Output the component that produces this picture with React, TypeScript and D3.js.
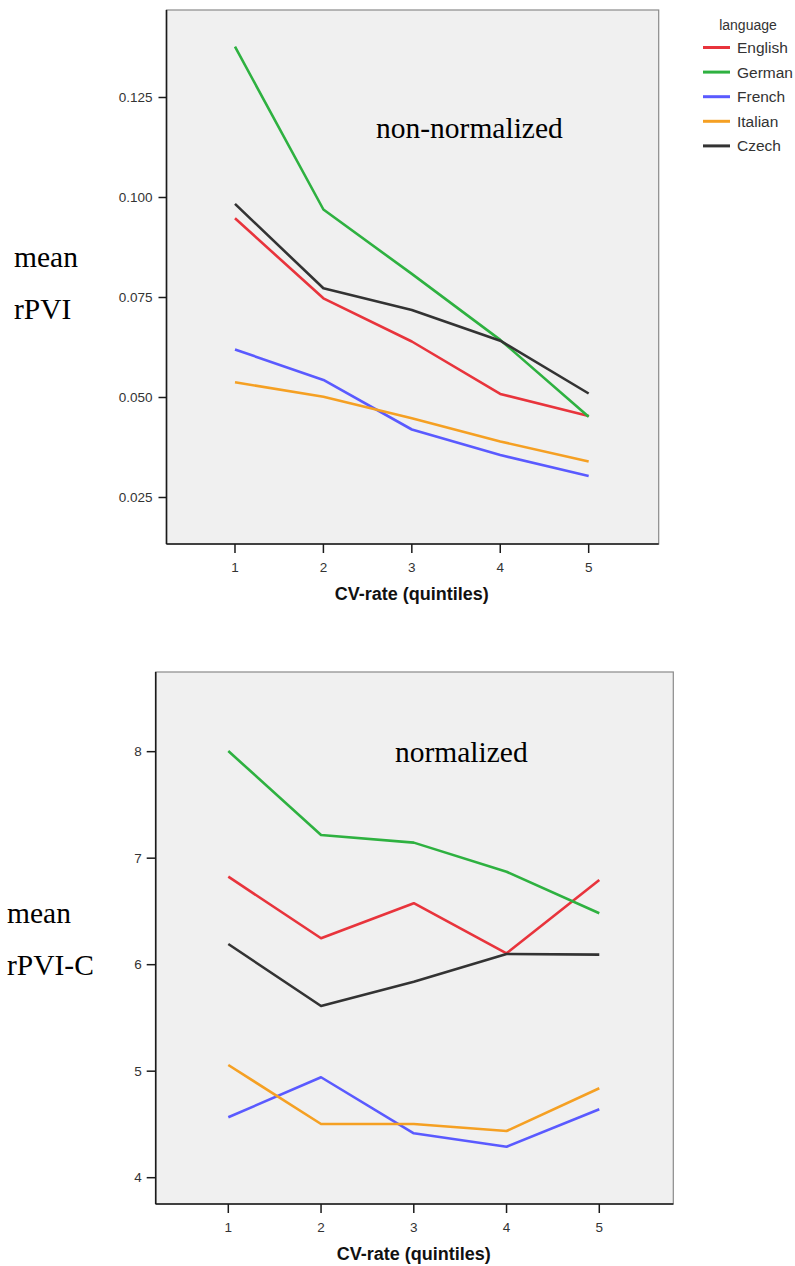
import React from "react";
import * as d3 from "d3";

const quintiles = [1, 2, 3, 4, 5];
const languages = ["English", "German", "French", "Italian", "Czech"];
const colors = ["#e8343c", "#2eb140", "#5a5aff", "#f5a023", "#333333"];

// non-normalized mean rPVI
const rpviEnglish = [0.0948, 0.0748, 0.0640, 0.0509, 0.0454];
const rpviGerman = [0.1377, 0.0970, 0.0809, 0.0644, 0.0452];
const rpviFrench = [0.0620, 0.0544, 0.0420, 0.0356, 0.0304];
const rpviItalian = [0.0538, 0.0502, 0.0448, 0.0390, 0.0340];
const rpviCzech = [0.0984, 0.0773, 0.0719, 0.0642, 0.0510];

// normalized mean rPVI-C
const rpvicEnglish = [6.826, 6.248, 6.577, 6.107, 6.795];
const rpvicGerman = [8.006, 7.218, 7.146, 6.873, 6.483];
const rpvicFrench = [4.567, 4.943, 4.417, 4.291, 4.642];
const rpvicItalian = [5.058, 4.504, 4.504, 4.438, 4.840];
const rpvicCzech = [6.194, 5.612, 5.840, 6.100, 6.094];

const topTicks = [0.025, 0.05, 0.075, 0.1, 0.125];
const bottomTicks = [4, 5, 6, 7, 8];

const xTitle = "CV-rate (quintiles)";

const SANS = "'Liberation Sans', Arial, sans-serif";
const SERIF = "'Liberation Serif', 'Times New Roman', serif";

type Panel = {
  x0: number; x1: number; y0: number; y1: number;
  xDomain: [number, number]; yDomain: [number, number];
  yTicks: number[]; fmt: (v: number) => string;
  series: number[][];
  tickLen: number;
  note: string; noteX: number; noteY: number;
  yLabel: string[]; yLabelX: number; yLabelY: number;
};

const panels: Panel[] = [
  {
    x0: 166.5, x1: 658.7, y0: 10, y1: 544,
    xDomain: [0.2254, 5.792], yDomain: [0.013375, 0.146875],
    yTicks: topTicks, fmt: d3.format(".3f"),
    series: [rpviEnglish, rpviGerman, rpviFrench, rpviItalian, rpviCzech],
    tickLen: 8,
    note: "non-normalized", noteX: 376, noteY: 138,
    yLabel: ["mean", "rPVI"], yLabelX: 14, yLabelY: 267,
  },
  {
    x0: 155.7, x1: 673.3, y0: 672, y1: 1204,
    xDomain: [0.2172, 5.798], yDomain: [3.753, 8.748],
    yTicks: bottomTicks, fmt: d3.format("d"),
    series: [rpvicEnglish, rpvicGerman, rpvicFrench, rpvicItalian, rpvicCzech],
    tickLen: 9,
    note: "normalized", noteX: 395, noteY: 762,
    yLabel: ["mean", "rPVI-C"], yLabelX: 7, yLabelY: 923,
  },
];

function ChartPanel({ p }: { p: Panel }) {
  const x = d3.scaleLinear().domain(p.xDomain).range([p.x0, p.x1]);
  const y = d3.scaleLinear().domain(p.yDomain).range([p.y1, p.y0]);
  const line = d3
    .line<number>()
    .x((_, i) => x(quintiles[i]))
    .y((d) => y(d));
  return (
    <g>
      <rect x={p.x0} y={p.y0} width={p.x1 - p.x0} height={p.y1 - p.y0} fill="#f0f0f0" stroke="#8a8a8a" strokeWidth={1.2} />
      {p.series.map((s, i) => (
        <path key={languages[i]} d={line(s) || ""} fill="none" stroke={colors[i]} strokeWidth={2.6} strokeLinejoin="round" />
      ))}
      {/* axes */}
      <line x1={p.x0} x2={p.x0} y1={p.y0} y2={p.y1} stroke="#1a1a1a" strokeWidth={1.6} />
      <line x1={p.x0} x2={p.x1} y1={p.y1} y2={p.y1} stroke="#1a1a1a" strokeWidth={1.6} />
      {p.yTicks.map((t) => (
        <g key={t}>
          <line x1={p.x0 - p.tickLen} x2={p.x0} y1={y(t)} y2={y(t)} stroke="#1a1a1a" strokeWidth={1.5} />
          <text x={p.x0 - 14} y={y(t)} dy="0.35em" textAnchor="end" fontFamily={SANS} fontSize={13.5} fill="#333">
            {p.fmt(t)}
          </text>
        </g>
      ))}
      {quintiles.map((q) => (
        <g key={q}>
          <line x1={x(q)} x2={x(q)} y1={p.y1} y2={p.y1 + 9} stroke="#1a1a1a" strokeWidth={1.5} />
          <text x={x(q)} y={p.y1 + 23} dy="0.35em" textAnchor="middle" fontFamily={SANS} fontSize={13.5} fill="#333">
            {q}
          </text>
        </g>
      ))}
      <text x={x(3)} y={p.y1 + 50} dy="0.35em" textAnchor="middle" fontFamily={SANS} fontWeight="bold" fontSize={18} fill="#111">
        {xTitle}
      </text>
      <text x={p.noteX} y={p.noteY} fontFamily={SERIF} fontSize={29.5} fill="#000">
        {p.note}
      </text>
      {p.yLabel.map((l, i) => (
        <text key={l} x={p.yLabelX} y={p.yLabelY + i * 52} fontFamily={SERIF} fontSize={29.5} fill="#000">
          {l}
        </text>
      ))}
    </g>
  );
}

function Legend() {
  const legendX = 703;
  const legendY = 47.5;
  const step = 24.6;
  return (
    <g>
      <text x={748} y={25} dy="0.35em" textAnchor="middle" fontFamily={SANS} fontSize={14} fill="#333">
        language
      </text>
      {languages.map((l, i) => (
        <g key={l}>
          <line x1={legendX} x2={legendX + 27} y1={legendY + i * step} y2={legendY + i * step} stroke={colors[i]} strokeWidth={3} />
          <text x={legendX + 34} y={legendY + i * step} dy="0.35em" fontFamily={SANS} fontSize={15.5} fill="#333">
            {l}
          </text>
        </g>
      ))}
    </g>
  );
}

export default function App() {
  return (
    <svg width={795} height={1266} style={{ position: "absolute", left: 0, top: 0, background: "#fff" }}>
      {panels.map((p, i) => (
        <ChartPanel key={i} p={p} />
      ))}
      <Legend />
    </svg>
  );
}
